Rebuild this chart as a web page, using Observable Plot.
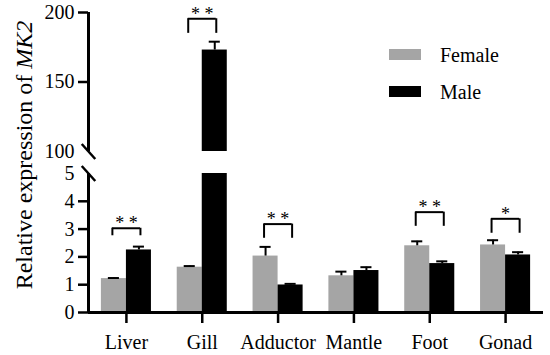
<!DOCTYPE html>
<html><head><meta charset="utf-8">
<script src="https://cdn.jsdelivr.net/npm/d3@7"></script>
<script src="https://cdn.jsdelivr.net/npm/@observablehq/plot@0.6"></script>
</head><body style="margin:0">
<div id="chart" style="position:relative;width:550px;height:355px;font-family:'Liberation Serif';color:#000">
  <div id="ytitle" style="position:absolute;left:24px;top:155px;transform:translate(-50%,-50%) rotate(-90deg);white-space:nowrap;font-size:24px;line-height:1;font-family:'Liberation Serif'"></div>
  <div id="legend"></div>
</div>
<script>
// ---- data ----
const categories = ["Liver", "Gill", "Adductor", "Mantle", "Foot", "Gonad"];
const female    = [1.22, 1.63, 2.03, 1.32, 2.40, 2.43];
const femaleErr = [0.02, 0.04, 0.33, 0.15, 0.16, 0.17];
const male      = [2.25, 173, 0.99, 1.51, 1.76, 2.07];
const maleErr   = [0.12, 6, 0.04, 0.12, 0.08, 0.10];
const signif      = ["**", "**", "**", "", "**", "*"];
const bracketTop  = [3.03, 195.5, 3.18, null, 3.61, 3.37];
const bracketLeg  = [2.76, 185.0, 2.67, null, 3.10, 2.85];
const seriesNames  = ["Female", "Male"];
const seriesColors = ["#a5a5a5", "#000000"];
const yTicksMarked = [0, 1, 2, 3, 4, 150, 200];
const yTicksBreak  = [5, 100];
const yTitle = "Relative expression of ";
const yTitleGene = "MK2";

// ---- derived ----
const FONT = "Liberation Serif";
const lowMax = 5, highMin = 100;
const half = 0.33;     // bar width (in category steps)
const cap = 0.073;     // error-cap half width
const br = 0.185;      // bracket half width
const rows = [];
categories.forEach((c, i) => {
  rows.push({cat: c, i, sex: seriesNames[0], v: female[i], e: femaleErr[i], x1: i - half, x2: i, xc: i - half / 2});
  rows.push({cat: c, i, sex: seriesNames[1], v: male[i], e: maleErr[i], x1: i, x2: i + half, xc: i + half / 2});
});
const lowerBars = rows.map(d => ({...d, y1: 0, y2: Math.min(d.v, lowMax)}));
const upperBars = rows.filter(d => d.v > highMin).map(d => ({...d, y1: highMin, y2: d.v}));
const sig = categories.map((c, i) => ({i, s: signif[i], top: bracketTop[i], leg: bracketLeg[i]})).filter(d => d.s);
const xDomain = [-0.5, categories.length - 0.5];

const slash = {draw(ctx, size) { const s = Math.sqrt(size / Math.PI); ctx.moveTo(-s * 0.9, -s); ctx.lineTo(s * 0.9, s); }};

const plot = Plot.plot({
  width: 550, height: 355,
  marginLeft: 88, marginRight: 7, marginTop: 12, marginBottom: 43,
  style: {fontFamily: FONT, fontSize: "20px"},
  x: {type: "linear", domain: xDomain, axis: null},
  y: {type: "linear", domain: [0, lowMax, highMin, 200], range: [312, 173, 151, 12], axis: null},
  color: {domain: seriesNames, range: seriesColors},
  marks: [
    Plot.rectY(lowerBars, {x1: "x1", x2: "x2", y1: "y1", y2: "y2", fill: "sex"}),
    Plot.rectY(upperBars, {x1: "x1", x2: "x2", y1: "y1", y2: "y2", fill: "sex"}),
    Plot.ruleX(rows, {x: "xc", y1: "v", y2: d => d.v + d.e, stroke: "#000", strokeWidth: 2}),
    Plot.ruleY(rows, {y: d => d.v + d.e, x1: d => d.xc - cap, x2: d => d.xc + cap, stroke: "#000", strokeWidth: 2}),
    // significance brackets
    Plot.ruleY(sig, {y: "top", x1: d => d.i - br, x2: d => d.i + br, stroke: "#000", strokeWidth: 2}),
    Plot.ruleX(sig, {x: d => d.i - br, y1: "leg", y2: "top", stroke: "#000", strokeWidth: 2}),
    Plot.ruleX(sig, {x: d => d.i + br, y1: "leg", y2: "top", stroke: "#000", strokeWidth: 2}),
    Plot.text(sig, {x: "i", y: "top", text: d => d.s.split("").join(" "), lineAnchor: "bottom", dy: 1, fontSize: 18}),
    // axes
    Plot.ruleX([xDomain[0]], {y1: 0, y2: lowMax, strokeWidth: 3}),
    Plot.ruleX([xDomain[0]], {y1: highMin, y2: 200, strokeWidth: 3}),
    Plot.ruleY([0], {x1: xDomain[0], x2: xDomain[1], strokeWidth: 3}),
    Plot.dot(yTicksBreak, {x: () => xDomain[0], y: d => d, symbol: slash, r: 7.5, stroke: "#000", fill: "none", strokeWidth: 2.5}),
    Plot.axisY({ticks: yTicksMarked, tickSize: 10, tickPadding: 4, strokeWidth: 2.5, label: null}),
    Plot.axisY({ticks: yTicksBreak, tickSize: 0, tickPadding: 14, label: null}),
    Plot.axisX({ticks: d3.range(categories.length), tickFormat: i => categories[i], tickSize: 11, tickPadding: 11, strokeWidth: 2.5, label: null})
  ]
});
const chart = document.getElementById("chart");
chart.insertBefore(plot, chart.firstChild);
d3.select(plot).selectAll("text").attr("font-family", FONT).style("font-family", FONT);

// y title (HTML, italic gene name)
const yt = d3.select("#ytitle");
yt.append("span").text(yTitle);
yt.append("i").text(yTitleGene);

// legend (HTML overlay)
const lg = d3.select("#legend");
seriesNames.forEach((n, k) => {
  lg.append("div")
    .style("position", "absolute").style("left", "389px").style("top", `${49 + k * 37}px`)
    .style("width", "32px").style("height", "11px").style("background", seriesColors[k]);
  lg.append("div")
    .style("position", "absolute").style("left", "440px").style("top", `${55 + k * 37}px`)
    .style("transform", "translateY(-50%)").style("line-height", "1").style("font-size", "20px")
    .style("font-family", FONT).style("white-space", "nowrap")
    .text(n);
});
</script></body></html>
